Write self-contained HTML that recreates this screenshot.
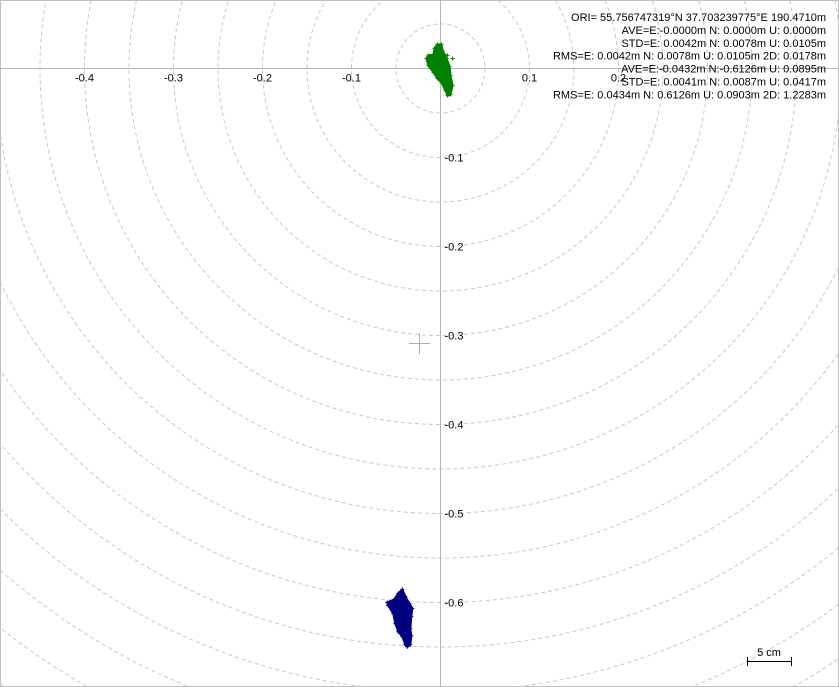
<!DOCTYPE html>
<html><head><meta charset="utf-8"><style>
html,body{margin:0;padding:0;background:#fff;width:839px;height:687px;overflow:hidden;}
svg{display:block;overflow:hidden;font-family:"Liberation Sans",Tahoma,sans-serif;}
</style></head><body>
<svg id="chart" width="839" height="687" viewBox="0 0 839 687" xmlns="http://www.w3.org/2000/svg">
<rect x="0.5" y="0.5" width="838" height="686" fill="#fff" stroke="#c0c0c0"/>
<g id="circles"></g>
<g id="axes"></g>
<g id="series"></g>
<g stroke="#b0b0b0" stroke-width="1">
<line x1="409" y1="343.5" x2="430" y2="343.5"/><line x1="419.5" y1="333" x2="419.5" y2="354"/></g>
<g stroke="#000" stroke-width="1">
<line x1="747" y1="661.5" x2="792" y2="661.5"/><line x1="747.5" y1="657" x2="747.5" y2="666"/><line x1="791.5" y1="657" x2="791.5" y2="666"/></g>
<text x="769" y="656" font-size="11" text-anchor="middle" fill="#000">5 cm</text>
<g id="stats" font-size="11" fill="#000" text-anchor="end" style="white-space:pre"></g>
</svg>
<script>
const xTicks=[-0.4,-0.3,-0.2,-0.1,0.1,0.2];
const yTicks=[-0.1,-0.2,-0.3,-0.4,-0.5,-0.6];
const ringRadii=[0.05,0.1,0.15,0.2,0.25,0.3,0.35,0.4,0.45,0.5,0.55,0.6,0.65,0.7,0.75,0.8,0.85,0.9];
const greenE=[-0.0034,0.0011,0.0023,0.0068,0.0102,0.0113,0.0136,0.0113,0.0079,0.0056,0.0011,-0.0034,-0.0079,-0.0136,-0.0158,-0.0136,-0.0079,-0.0068];
const greenN=[0.0271,0.0271,0.0203,0.0113,0.0023,-0.0079,-0.0192,-0.0294,-0.0305,-0.0249,-0.0158,-0.0113,-0.0045,0.0034,0.0113,0.0147,0.0158,0.0226];
const greenStrayE=[0.0045,0.0079,0.0136];
const greenStrayN=[0.0158,0.0147,0.0113];
const blueE=[-0.0429,-0.0395,-0.0350,-0.0316,-0.0328,-0.0339,-0.0328,-0.0339,-0.0373,-0.0395,-0.0429,-0.0475,-0.0508,-0.0531,-0.0588,-0.0599,-0.0520,-0.0475];
const blueN=[-0.5853,-0.5932,-0.6011,-0.6068,-0.6158,-0.6294,-0.6373,-0.6475,-0.6497,-0.6475,-0.6384,-0.6328,-0.6237,-0.6124,-0.6034,-0.6000,-0.5966,-0.5898];
const statLines=["ORI= 55.756747319°N   37.703239775°E 190.4710m","AVE=E:-0.0000m N: 0.0000m U: 0.0000m","STD=E: 0.0042m N: 0.0078m U: 0.0105m","RMS=E: 0.0042m N: 0.0078m U: 0.0105m 2D: 0.0178m","AVE=E:-0.0432m N:-0.6126m U: 0.0895m","STD=E: 0.0041m N: 0.0087m U: 0.0417m","RMS=E: 0.0434m N: 0.6126m U: 0.0903m 2D: 1.2283m"];

const NS="http://www.w3.org/2000/svg";
const OX=440.5, OY=68.5, S=890, W=839, H=687;
function sx(e){return OX+e*S;}
function sy(n){return OY-n*S;}
function mk(tag,attrs,parent){const el=document.createElementNS(NS,tag);for(const k in attrs)el.setAttribute(k,attrs[k]);parent.appendChild(el);return el;}
const circles=document.getElementById('circles');
ringRadii.forEach(r=>{
  const R=r*S;
  let d='', pen=false;
  for(let a=0;a<=3600;a++){
    const t=a*Math.PI/1800;
    const x=OX+R*Math.cos(t), y=OY+R*Math.sin(t);
    const inside=x>=0.5&&x<=W-0.5&&y>=0.5&&y<=H-0.5;
    if(inside){d+=(pen?'L':'M')+x.toFixed(2)+','+y.toFixed(2);pen=true;}
    else pen=false;
  }
  if(d){
    const c=mk('path',{d:d,fill:'none',stroke:'#c8c8c8','stroke-dasharray':'4 3'},circles);
    
    
  }
});
const axes=document.getElementById('axes');
let l=mk('line',{x1:0,y1:OY,x2:W,y2:OY,stroke:'#b4b4b4'},axes);


l=mk('line',{x1:OX,y1:0,x2:OX,y2:H,stroke:'#b4b4b4'},axes);


xTicks.forEach(v=>{
  const t=mk('text',{x:sx(v),y:OY+13,'font-size':11,'text-anchor':'middle',fill:'#000'},axes);
  t.textContent=String(v);
  
  
});
yTicks.forEach(v=>{
  const t=mk('text',{x:OX+4,y:sy(v)+4,'font-size':11,fill:'#000'},axes);
  t.textContent=String(v);
  
  
});
const series=document.getElementById('series');
function drawCluster(E,N,color,name){
  const pts=E.map((e,i)=>sx(e)+','+sy(N[i])).join(' ');
  const p=mk('polygon',{points:pts,fill:color,stroke:color,'stroke-width':2,'stroke-linejoin':'round'},series);
  
  
}
function drawPoints(E,N,color){
  E.forEach((e,i)=>{
    const x=sx(e),y=sy(N[i]);
    const g=mk('path',{d:`M${x-2},${y}H${x+2}M${x},${y-2}V${y+2}`,stroke:color,'stroke-width':1},series);
    
    
  });
}
drawCluster(greenE,greenN,'#008000','fix-solution-cluster');
drawPoints(greenE,greenN,'#008000');
drawPoints(greenStrayE,greenStrayN,'#008000');
drawCluster(blueE,blueN,'#000080','float-solution-cluster');
drawPoints(blueE,blueN,'#000080');
const stats=document.getElementById('stats');
statLines.forEach((s,i)=>{
  const t=mk('text',{x:826,y:21+i*12.9},stats);
  t.textContent=s;
  
  
});
</script>
</body></html>
